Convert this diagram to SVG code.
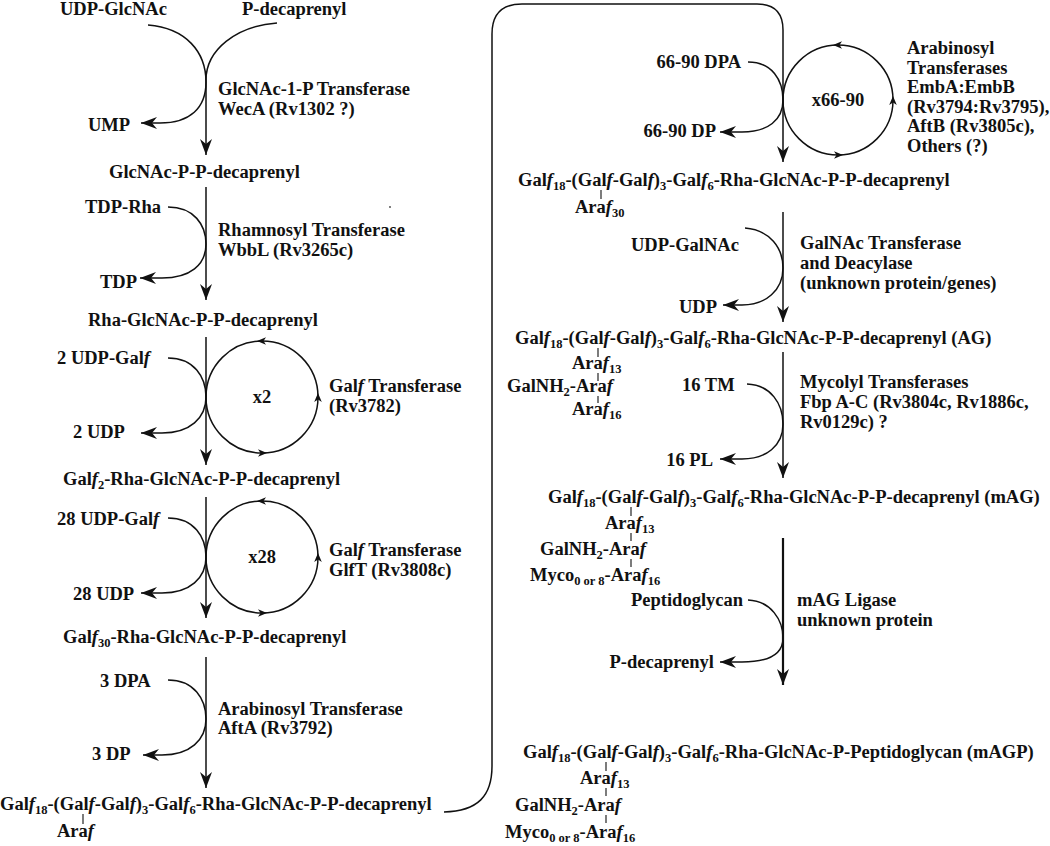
<svg xmlns="http://www.w3.org/2000/svg" xmlns:xlink="http://www.w3.org/1999/xlink" width="1050" height="846" viewBox="0 0 1050 846">
<style>
.t{font-family:"Liberation Serif","Times New Roman",serif;font-weight:bold;font-size:18.5px;fill:#111}
.s{font-size:12.5px}
.i{font-style:italic}
.ln{fill:none;stroke:#111;stroke-width:1.5}
.tk{fill:none;stroke:#111;stroke-width:1.1}
</style>
<defs>
<marker id="arr" viewBox="-17 -7 18 14" refX="0" refY="0" markerWidth="18" markerHeight="14" orient="auto" markerUnits="userSpaceOnUse">
<path d="M0,0 L-16,-6 L-11,0 L-16,6 Z" fill="#111"/>
</marker>
<path id="sa" d="M0,0 L9,-3.8 L6.5,0 L9,3.8 Z" fill="#111"/>
</defs>
<rect width="1050" height="846" fill="#fff"/>

<g id="connectors">
<path class="ln" d="M148,25 C186,28 206,52 206,82 C206,108 190,123 160,123 L141,123" marker-end="url(#arr)"/>
<path class="ln" d="M277,23 C236,26 206,50 206,80 L206,155" marker-end="url(#arr)"/>
<path class="ln" d="M168,207 C194,207 206,225 206,244 C206,265 190,278 162,278 L140,278" marker-end="url(#arr)"/>
<path class="ln" d="M206,187 L206,300" marker-end="url(#arr)"/>
<path class="ln" d="M168,358 C194,358 206,377 206,397 C206,418 190,433 162,433 L141,433" marker-end="url(#arr)"/>
<path class="ln" d="M206,337 L206,465" marker-end="url(#arr)"/>
<circle class="ln" cx="262" cy="397" r="56"/>
<use href="#sa" transform="translate(257,341)"/>
<use href="#sa" transform="translate(318,393) rotate(90)"/>
<use href="#sa" transform="translate(267,453) rotate(180)"/>
<path class="ln" d="M168,518 C194,518 206,537 206,557 C206,578 190,593 162,593 L141,593" marker-end="url(#arr)"/>
<path class="ln" d="M206,497 L206,618" marker-end="url(#arr)"/>
<circle class="ln" cx="262" cy="557" r="56"/>
<use href="#sa" transform="translate(257,501)"/>
<use href="#sa" transform="translate(318,553) rotate(90)"/>
<use href="#sa" transform="translate(267,613) rotate(180)"/>
<path class="ln" d="M168,680 C194,680 206,699 206,719 C206,740 190,755 162,755 L143,755" marker-end="url(#arr)"/>
<path class="ln" d="M206,657 L206,788" marker-end="url(#arr)"/>
<path class="ln" d="M444,812 C478,811 492,796 492,766 L492,34 Q492,4 522,4 L757,4 Q783,4 783,30 L783,162" marker-end="url(#arr)"/>
<path class="ln" d="M748,62 C772,62 783,80 783,100 C783,120 768,132 742,132 L720,132" marker-end="url(#arr)"/>
<circle class="ln" cx="838" cy="100" r="55"/>
<use href="#sa" transform="translate(833,45)"/>
<use href="#sa" transform="translate(893,96) rotate(90)"/>
<use href="#sa" transform="translate(843,155) rotate(180)"/>
<path class="ln" d="M745,228 C770,230 783,248 783,268 C783,290 766,305 742,305 L723,305" marker-end="url(#arr)"/>
<path class="ln" d="M783,212 L783,322" marker-end="url(#arr)"/>
<path class="ln" d="M747,384 C771,385 783,404 783,424 C783,446 766,459 742,459 L720,459" marker-end="url(#arr)"/>
<path class="ln" d="M783,352 L783,478" marker-end="url(#arr)"/>
<path class="ln" d="M748,600 C771,601 783,620 783,638 C783,655 768,662 742,662 L720,662" marker-end="url(#arr)"/>
<path class="ln" style="stroke-width:2.2" d="M783,538 L783,685" marker-end="url(#arr)"/>
<circle cx="390" cy="207" r="0.9" fill="#444"/>
</g>

<g id="n-udpglcnac"><text class="t" x="60" y="15">UDP-GlcNAc</text></g>
<g id="n-pdecaprenyl"><text class="t" x="242" y="15">P-decaprenyl</text></g>
<g id="n-ump"><text class="t" x="88" y="131">UMP</text></g>
<g id="e-weca"><text class="t" x="218" y="95">GlcNAc-1-P Transferase</text><text class="t" x="218" y="115">WecA (Rv1302 ?)</text></g>
<g id="n-glcnacppd"><text class="t" x="109" y="178">GlcNAc-P-P-decaprenyl</text></g>

<g id="n-tdprha"><text class="t" x="85" y="213">TDP-Rha</text></g>
<g id="n-tdp"><text class="t" x="100" y="288">TDP</text></g>
<g id="e-wbbl"><text class="t" x="218" y="236">Rhamnosyl Transferase</text><text class="t" x="218" y="256">WbbL (Rv3265c)</text></g>
<g id="n-rhaglcnac"><text class="t" x="88" y="326">Rha-GlcNAc-P-P-decaprenyl</text></g>

<g id="n-2udpgalf"><text class="t" x="57" y="364">2 UDP-Gal<tspan class="i">f</tspan></text></g>
<g id="n-2udp"><text class="t" x="73" y="438">2 UDP</text></g>
<g id="c-x2"><text class="t" x="262" y="403" text-anchor="middle">x2</text></g>
<g id="e-rv3782"><text class="t" x="329" y="392">Gal<tspan class="i">f</tspan> Transferase</text><text class="t" x="329" y="412">(Rv3782)</text></g>
<g id="n-galf2"><text class="t" x="63" y="485">Gal<tspan class="i">f</tspan><tspan class="s" dy="4">2</tspan><tspan dy="-4">-Rha-GlcNAc-P-P-decaprenyl</tspan></text></g>

<g id="n-28udpgalf"><text class="t" x="57" y="525">28 UDP-Gal<tspan class="i">f</tspan></text></g>
<g id="n-28udp"><text class="t" x="73" y="600">28 UDP</text></g>
<g id="c-x28"><text class="t" x="262" y="563" text-anchor="middle">x28</text></g>
<g id="e-glft"><text class="t" x="329" y="556">Gal<tspan class="i">f</tspan> Transferase</text><text class="t" x="329" y="576">GlfT (Rv3808c)</text></g>
<g id="n-galf30"><text class="t" x="63" y="643">Gal<tspan class="i">f</tspan><tspan class="s" dy="4">30</tspan><tspan dy="-4">-Rha-GlcNAc-P-P-decaprenyl</tspan></text></g>

<g id="n-3dpa"><text class="t" x="100" y="687">3 DPA</text></g>
<g id="n-3dp"><text class="t" x="92" y="760">3 DP</text></g>
<g id="e-afta"><text class="t" x="218" y="715">Arabinosyl Transferase</text><text class="t" x="218" y="734">AftA (Rv3792)</text></g>
<g id="n-araf1">
<text class="t" x="0" y="810">Gal<tspan class="i">f</tspan><tspan class="s" dy="4">18</tspan><tspan dy="-4">-(Gal</tspan><tspan class="i">f</tspan>-Gal<tspan class="i">f</tspan>)<tspan class="s" dy="4">3</tspan><tspan dy="-4">-Gal</tspan><tspan class="i">f</tspan><tspan class="s" dy="4">6</tspan><tspan dy="-4">-Rha-GlcNAc-P-P-decaprenyl</tspan></text>
<path class="tk" d="M83,814 V824"/>
<text class="t" x="57" y="837">Ara<tspan class="i">f</tspan></text>
</g>

<g id="n-6690dpa"><text class="t" x="741" y="68" text-anchor="end">66-90 DPA</text></g>
<g id="n-6690dp"><text class="t" x="716" y="137" text-anchor="end">66-90 DP</text></g>
<g id="c-x6690"><text class="t" x="838" y="106" text-anchor="middle">x66-90</text></g>
<g id="e-emb">
<text class="t" x="907" y="54">Arabinosyl</text>
<text class="t" x="907" y="73.5">Transferases</text>
<text class="t" x="907" y="93">EmbA:EmbB</text>
<text class="t" x="907" y="112.5">(Rv3794:Rv3795),</text>
<text class="t" x="907" y="132">AftB (Rv3805c),</text>
<text class="t" x="907" y="151.5">Others (?)</text>
</g>
<g id="n-araf30">
<text class="t" x="518" y="186">Gal<tspan class="i">f</tspan><tspan class="s" dy="4">18</tspan><tspan dy="-4">-(Gal</tspan><tspan class="i">f</tspan>-Gal<tspan class="i">f</tspan>)<tspan class="s" dy="4">3</tspan><tspan dy="-4">-Gal</tspan><tspan class="i">f</tspan><tspan class="s" dy="4">6</tspan><tspan dy="-4">-Rha-GlcNAc-P-P-decaprenyl</tspan></text>
<path class="tk" d="M601,190 V199"/>
<text class="t" x="575" y="213">Ara<tspan class="i">f</tspan><tspan class="s" dy="4">30</tspan></text>
</g>

<g id="n-udpgalnac"><text class="t" x="631" y="251">UDP-GalNAc</text></g>
<g id="n-udp"><text class="t" x="717" y="313" text-anchor="end">UDP</text></g>
<g id="e-galnac"><text class="t" x="800" y="249">GalNAc Transferase</text><text class="t" x="800" y="269">and Deacylase</text><text class="t" x="800" y="289">(unknown protein/genes)</text></g>
<g id="n-ag">
<text class="t" x="515" y="344">Gal<tspan class="i">f</tspan><tspan class="s" dy="4">18</tspan><tspan dy="-4">-(Gal</tspan><tspan class="i">f</tspan>-Gal<tspan class="i">f</tspan>)<tspan class="s" dy="4">3</tspan><tspan dy="-4">-Gal</tspan><tspan class="i">f</tspan><tspan class="s" dy="4">6</tspan><tspan dy="-4">-Rha-GlcNAc-P-P-decaprenyl (AG)</tspan></text>
<path class="tk" d="M598,348 V357 M598,373 V381 M598,396 V403"/>
<text class="t" x="572" y="369">Ara<tspan class="i">f</tspan><tspan class="s" dy="4">13</tspan></text>
<text class="t" x="507" y="392">GalNH<tspan class="s" dy="4">2</tspan><tspan dy="-4">-Ara</tspan><tspan class="i">f</tspan></text>
<text class="t" x="572" y="415">Ara<tspan class="i">f</tspan><tspan class="s" dy="4">16</tspan></text>
</g>

<g id="n-16tm"><text class="t" x="682" y="391">16 TM</text></g>
<g id="n-16pl"><text class="t" x="713" y="466" text-anchor="end">16 PL</text></g>
<g id="e-fbp"><text class="t" x="800" y="388">Mycolyl Transferases</text><text class="t" x="800" y="408">Fbp A-C (Rv3804c, Rv1886c,</text><text class="t" x="800" y="428">Rv0129c) ?</text></g>
<g id="n-mag">
<text class="t" x="548" y="503">Gal<tspan class="i">f</tspan><tspan class="s" dy="4">18</tspan><tspan dy="-4">-(Gal</tspan><tspan class="i">f</tspan>-Gal<tspan class="i">f</tspan>)<tspan class="s" dy="4">3</tspan><tspan dy="-4">-Gal</tspan><tspan class="i">f</tspan><tspan class="s" dy="4">6</tspan><tspan dy="-4">-Rha-GlcNAc-P-P-decaprenyl (mAG)</tspan></text>
<path class="tk" d="M631,507 V516 M631,533 V541 M631,559 V567"/>
<text class="t" x="605" y="529">Ara<tspan class="i">f</tspan><tspan class="s" dy="4">13</tspan></text>
<text class="t" x="540" y="555">GalNH<tspan class="s" dy="4">2</tspan><tspan dy="-4">-Ara</tspan><tspan class="i">f</tspan></text>
<text class="t" x="530" y="581">Myco<tspan class="s" dy="4">0 or 8</tspan><tspan dy="-4">-Ara</tspan><tspan class="i">f</tspan><tspan class="s" dy="4">16</tspan></text>
</g>

<g id="n-peptidoglycan"><text class="t" x="631" y="606">Peptidoglycan</text></g>
<g id="n-pdecaprenyl2"><text class="t" x="714" y="668" text-anchor="end">P-decaprenyl</text></g>
<g id="e-ligase"><text class="t" x="797" y="606">mAG Ligase</text><text class="t" x="797" y="626">unknown protein</text></g>
<g id="n-magp">
<text class="t" x="523" y="758">Gal<tspan class="i">f</tspan><tspan class="s" dy="4">18</tspan><tspan dy="-4">-(Gal</tspan><tspan class="i">f</tspan>-Gal<tspan class="i">f</tspan>)<tspan class="s" dy="4">3</tspan><tspan dy="-4">-Gal</tspan><tspan class="i">f</tspan><tspan class="s" dy="4">6</tspan><tspan dy="-4">-Rha-GlcNAc-P-Peptidoglycan (mAGP)</tspan></text>
<path class="tk" d="M606,762 V771 M606,788 V796 M606,815 V823"/>
<text class="t" x="580" y="784">Ara<tspan class="i">f</tspan><tspan class="s" dy="4">13</tspan></text>
<text class="t" x="515" y="811">GalNH<tspan class="s" dy="4">2</tspan><tspan dy="-4">-Ara</tspan><tspan class="i">f</tspan></text>
<text class="t" x="505" y="838">Myco<tspan class="s" dy="4">0 or 8</tspan><tspan dy="-4">-Ara</tspan><tspan class="i">f</tspan><tspan class="s" dy="4">16</tspan></text>
</g>
</svg>
